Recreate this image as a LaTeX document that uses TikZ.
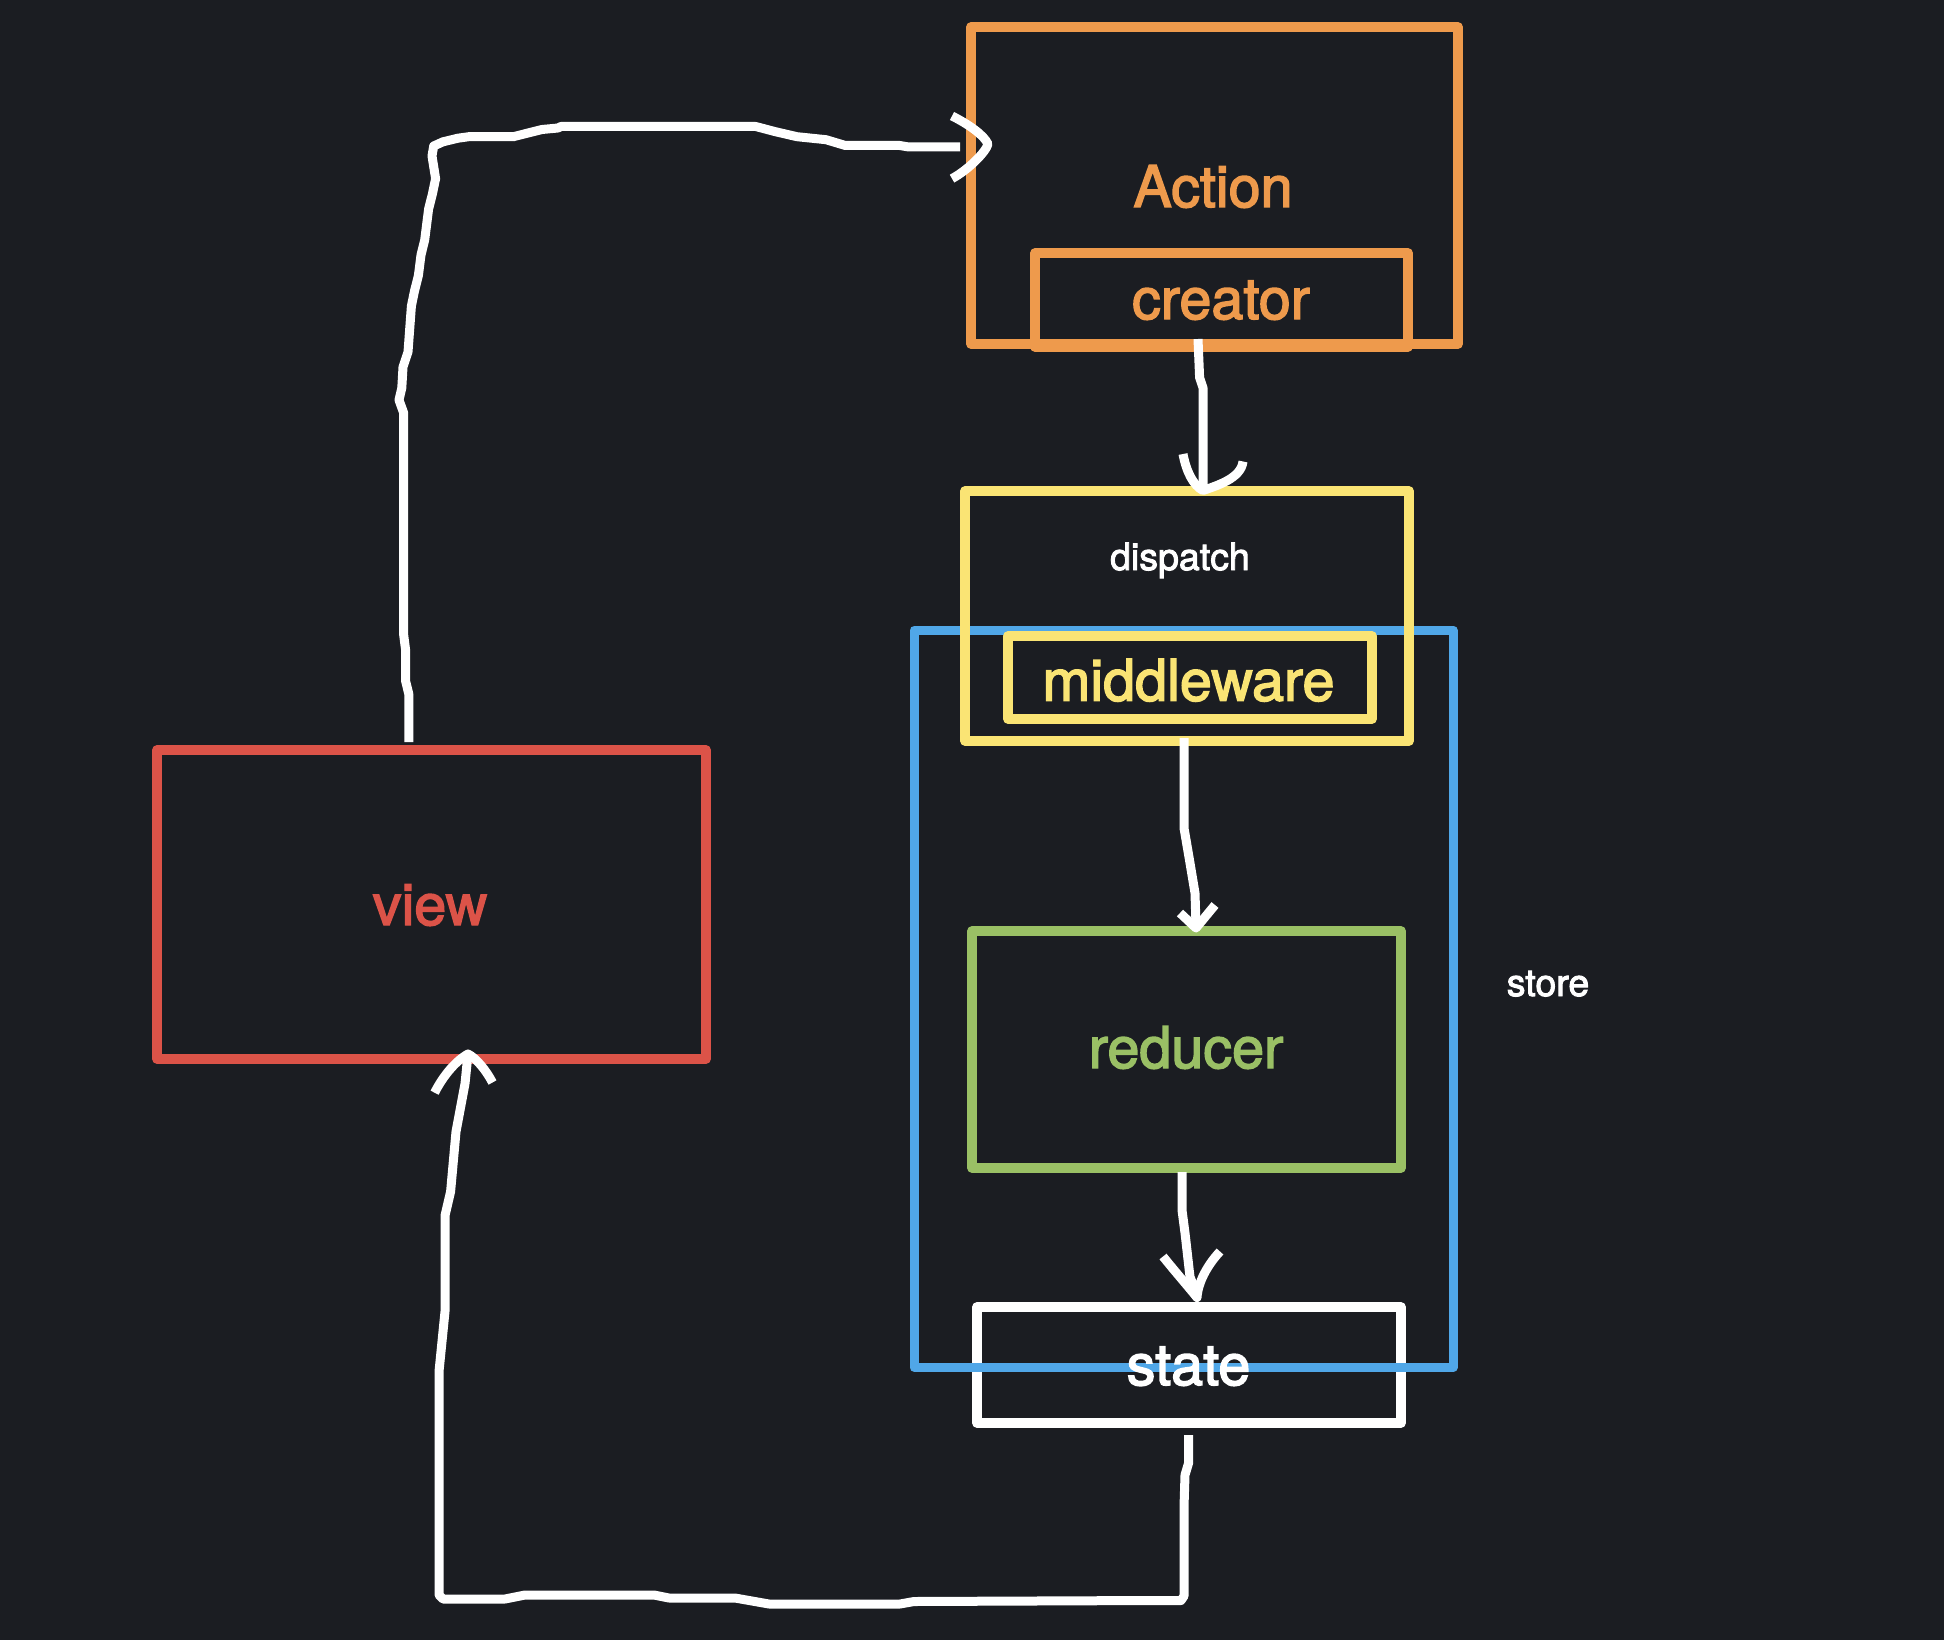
\documentclass[tikz,border=0pt]{standalone}
\usepackage{fontspec}
\setmainfont{TeX Gyre Heros}[FakeBold=2.5]
\definecolor{bg}{HTML}{1B1D22}
\definecolor{cOrange}{HTML}{EE9A4C}
\definecolor{cYellow}{HTML}{FAE474}
\definecolor{cBlue}{HTML}{50A7E8}
\definecolor{cGreen}{HTML}{9AC065}
\definecolor{cRed}{HTML}{DC5348}
\begin{document}
\begin{tikzpicture}[x=1pt,y=-1pt,
  box/.style={draw, rectangle, inner sep=0pt, outer sep=0pt, line width=9.5pt, line join=round},
  big/.style={anchor=base, inner sep=0pt, font=\fontsize{57.5}{60}\selectfont},
  small/.style={anchor=base, inner sep=0pt, text=white, font=\fontsize{37.5}{40}\selectfont},
  conn/.style={draw=white, line width=9pt, line cap=butt, line join=round},
  head/.style={draw=white, line width=9pt, line cap=butt, line join=round}]
\useasboundingbox (0,0) rectangle (1944,1640);
\fill[bg] (0,0) rectangle (1944,1640);

% boxes
\node[box, draw=cOrange, minimum width=487pt, minimum height=317pt] (action) at (1214.5,185.5) {};
\node[box, draw=cOrange, minimum width=373pt, minimum height=94pt] (creator) at (1221.5,300) {};
\node[box, draw=cRed, minimum width=549pt, minimum height=309pt] (view) at (431.5,904.5) {};
\node[box, draw=cGreen, minimum width=429pt, minimum height=237pt] (reducer) at (1186.5,1049.5) {};
\node[box, draw=white, minimum width=424pt, minimum height=116pt] (state) at (1189,1365) {};
\node[box, draw=cBlue, line width=9pt, minimum width=539pt, minimum height=737.5pt] (store) at (1183.5,998.75) {};
\node[box, draw=cYellow, minimum width=444pt, minimum height=250pt] (dispatch) at (1187,616) {};
\node[box, draw=cYellow, minimum width=364pt, minimum height=83pt] (middleware) at (1190,677.5) {};

% labels
\node[big, text=cOrange] (tAction) at (1213,207) {Action};
\node[big, text=cOrange] (tCreator) at (1221,319) {creator};
\node[small] (tDispatch) at (1180,570) {dispatch};
\node[big, text=cYellow] (tMiddleware) at (1188.5,700.7) {middleware};
\node[big, text=cGreen] (tReducer) at (1186,1068) {reducer};
\node[big, text=cRed] (tView) at (430,925) {view};
\node[big, text=white] (tState) at (1188.5,1385) {state};
\node[small] (tStore) at (1548,996) {store};

% arrow tips
\coordinate (t1) at ([shift={(17,-41.5)}]action.west);
\coordinate (t2) at ([shift={(16,-0.5)}]dispatch.north);
\coordinate (t3) at ([shift={(9.5,-3)}]reducer.north);
\coordinate (t4) at ([shift={(8,-9.5)}]state.north);
\coordinate (t5) at ([shift={(36.5,-5)}]view.south);

% view -> action
\draw[conn] ([shift={(-22.7,-8)}]view.north) -- (408.8,694) -- (405.6,681) -- (405.6,650) -- (403.7,635) -- (403.7,413) -- (399,400) -- (401.8,388) -- (403,367) -- (408,352) -- (411.4,306) -- (414.5,291) -- (418.4,275.5) -- (421,255) -- (424.7,240) -- (428.6,209) -- (432.4,194) -- (435.6,178.6) -- (432,156) -- (433.7,146) -- (443,141.8) -- (458,138.2) -- (468.8,136.7) -- (513.4,136.7) -- (528,133) -- (542,129.5) -- (558,128) -- (561,126.5) -- (755.7,126.5) -- (775,131.6) -- (797,136.7) -- (826,139.7) -- (845,145.4) -- (899,145.4) -- (908.8,147) -- ([shift={(-28,3)}]t1);
\draw[head, shift={(t1)}] (-36,-28) .. controls (-20,-20) and (-4,-9) .. (0,0) .. controls (-2,8) and (-20,26) .. (-36,34.6);

% creator -> dispatch
\draw[conn] ([shift={(-23.5,-8)}]creator.south) -- (1199.6,377.6) -- (1203,387.8) -- ([shift={(0,-4)}]t2);
\draw[head, shift={(t2)}] (-20,-36.5) .. controls (-17,-20) and (-10,-5) .. (0,0) .. controls (14,-5) and (38,-12) .. (40,-29);

% middleware -> reducer
\draw[conn] ([shift={(-3,-3)}]dispatch.south) -- (1184,828) -- (1190,863) -- (1195,893) -- ([shift={(0,-2)}]t3);
\draw[head, shift={(t3)}] (-16,-15) -- (0,0) -- (19,-23);

% reducer -> state
\draw[conn] ([shift={(-4.5,4)}]reducer.south) -- (1182,1210) -- (1185,1233) -- (1190,1277) -- ([shift={(0,-3)}]t4);
\draw[head, shift={(t4)}] (-34,-41) .. controls (-22,-26) and (-8,-10) .. (0,0) .. controls (1,-15) and (10,-32) .. (23,-46);

% state -> view
\draw[conn] ([shift={(-0.4,12)}]state.south) -- (1188.6,1463) -- (1185,1475) -- (1184,1507) -- (1184,1596) -- (1181,1600.5) -- (1153,1600.5) -- (914,1601.5) -- (900,1604) -- (769,1604) -- (735,1598) -- (669,1598) -- (654,1595) -- (525,1595) -- (505,1599) -- (443,1599) -- (439,1595) -- (439,1371.5) -- (445,1311.5) -- (445,1215.6) -- (450.6,1191.6) -- (456,1131.7) -- (465,1083.7) -- (t5);
\draw[head, shift={(t5)}] (-33.4,38.7) .. controls (-26,24) and (-14,8) .. (0,0) .. controls (8,4) and (18,16) .. (24.5,28.5);
\end{tikzpicture}
\end{document}
